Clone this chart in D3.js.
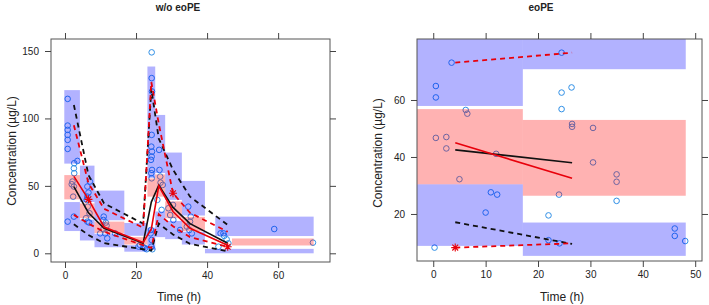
<!DOCTYPE html>
<html>
<head>
<meta charset="utf-8">
<script src="https://cdn.jsdelivr.net/npm/d3@7"></script>
<style>
  body { margin: 0; background: #fff; }
  text { font-family: "Liberation Sans", Arial, sans-serif; }
</style>
</head>
<body>
<div id="plot"></div>
<script>
// ---- left panel: w/o eoPE ----
var leftTitle = "w/o eoPE"
var leftXTicks = [0, 20, 40, 60]
var leftYTicks = [0, 50, 100, 150]

// observed concentrations
var leftTime = [
  0.75, 0.75, 0.75, 0.75, 0.75, 0.75, 0.75,
  2.6, 2.5, 2.6, 2.1, 1.9, 2.5, 2.3, 2.5, 3.5,
  5.9, 6.3, 6.8, 6.3, 6.6, 6.1, 6.4, 7.0, 6.3, 6.9,
  10.9, 10.8, 11.5, 10.8, 11.3, 11.9, 14.1, 9.9, 11.7,
  21.1, 22.1, 22.5, 23.0, 20.7,
  24.4, 24.4, 24.5, 24.4, 24.3, 24.5, 24.4, 24.2, 24.5, 24.3, 24.4, 24.2, 24.1, 24.4, 24.3, 24.6,
  26.5, 26.6, 26.8, 26.9, 27.5, 27.2, 26.0,
  29.1, 29.6, 30.4, 30.5, 32.4,
  34.7, 35.4, 35.2, 35.0, 35.7, 34.3,
  43.8, 44.6, 44.8, 45.5, 46.0, 43.2,
  58.9, 69.8
]
var leftConc = [
  114.5, 94.7, 91.5, 87.8, 84.1, 77.4, 23.5,
  66.8, 63.0, 59.4, 53.2, 51.2, 49.5, 42.0, 27.2, 68.5,
  26.0, 23.5, 22.8, 49.5, 45.0, 39.6, 34.6, 53.2, 42.0, 29.7,
  27.2, 24.7, 22.8, 17.8, 14.8, 11.1, 14.8, 14.8, 20.5,
  6.2, 4.5, 3.7, 3.0, 5.0,
  149.0, 129.9, 120.0, 87.8, 79.1, 75.4, 71.7, 69.3, 61.8, 59.4, 55.6, 17.3, 14.8, 9.9, 4.9, 3.0,
  76.7, 61.8, 56.9, 52.4, 50.7, 32.2, 39.6,
  33.4, 28.4, 35.9, 24.7, 17.3,
  34.6, 27.2, 23.5, 17.3, 14.8, 19.8,
  14.8, 14.8, 12.9, 10.4, 7.4, 4.9,
  18.0, 7.9
]

// 95% CI of simulated 95th percentile, median, 5th percentile per bin
var leftUpperCI = [
  {x0: -0.2, x1: 4.2, lo: 66.5, hi: 121},
  {x0: 4.2, x1: 8.3, lo: 38, hi: 65},
  {x0: 8.3, x1: 16.7, lo: 24.5, hi: 46.5},
  {x0: 16.7, x1: 23.2, lo: 13, hi: 22.5},
  {x0: 23.2, x1: 25.4, lo: 56, hi: 138.5},
  {x0: 25.4, x1: 28.2, lo: 59.5, hi: 102.6},
  {x0: 28.2, x1: 32.9, lo: 39.6, hi: 74.7},
  {x0: 32.9, x1: 39.4, lo: 28, hi: 53.7},
  {x0: 42.3, x1: 70, lo: 12.8, hi: 27.2}
]
var leftMedianCI = [
  {x0: -0.2, x1: 4.2, lo: 40, hi: 58},
  {x0: 4.2, x1: 8.3, lo: 26, hi: 37},
  {x0: 8.3, x1: 16.7, lo: 15, hi: 23.5},
  {x0: 16.7, x1: 23.2, lo: 6.5, hi: 12},
  {x0: 23.2, x1: 25.4, lo: 42, hi: 55.5},
  {x0: 25.4, x1: 28.2, lo: 42, hi: 58.5},
  {x0: 28.2, x1: 32.9, lo: 26, hi: 38.5},
  {x0: 32.9, x1: 39.4, lo: 16.5, hi: 27},
  {x0: 47, x1: 70, lo: 5.8, hi: 11}
]
var leftLowerCI = [
  {x0: -0.2, x1: 4.2, lo: 16.5, hi: 38},
  {x0: 4.2, x1: 8.3, lo: 9.5, hi: 25},
  {x0: 8.3, x1: 16.7, lo: 4.5, hi: 14.5},
  {x0: 16.7, x1: 23.2, lo: 1.2, hi: 6},
  {x0: 23.2, x1: 25.4, lo: 2.5, hi: 19},
  {x0: 25.4, x1: 28.2, lo: 12, hi: 31},
  {x0: 28.2, x1: 32.9, lo: 10.5, hi: 24},
  {x0: 32.9, x1: 39.4, lo: 6.5, hi: 16},
  {x0: 39.4, x1: 70, lo: 0, hi: 3.3}
]

// percentile lines at bin midpoints
var leftBinMid   = [2.5, 6.6, 11.0, 22.0, 24.3, 26.4, 30.4, 35.2, 45.8]
var leftObsMed   = [57, 40, 19.5, 8, 18, 50, 31, 18.5, 6]
var leftSimMed   = [49.5, 30, 18.5, 7.5, 38, 50.5, 34, 22, 7.5]
var leftObsHigh  = [95, 52, 33, 19, 127, 96, 44.5, 30, 16]
var leftSimHigh  = [110, 58, 37, 22, 122, 85, 62, 42, 21]
var leftObsLow   = [28.5, 22, 16, 6, 4, 29, 20, 12, 4.9]
var leftSimLow   = [21.5, 13.5, 7.5, 3, 2, 22, 14, 7, 1.5]
// observed percentiles outside their CI
var leftStarT = [6.6, 30.4, 45.8]
var leftStarC = [40, 44.5, 4.9]

// ---- right panel: eoPE ----
var rightTitle = "eoPE"
var rightXTicks = [0, 10, 20, 30, 40, 50]
var rightYTicks = [20, 40, 60]

var rightTime = [3.5, 24.5, 0.5, 0.5, 6.2, 6.5, 0.5, 2.5, 2.5, 12.0, 5.0, 11.0, 12.2, 10.0, 0.25,
  24.5, 26.4, 24.5, 26.5, 26.5, 30.5, 30.5, 35.0, 35.0, 35.0, 24.0, 22.0, 22.0, 24.1, 46.1, 46.1, 48.1]
var rightConc = [73.1, 76.6, 64.9, 60.9, 56.5, 55.2, 46.7, 47.0, 43.0, 41.1, 32.2, 27.6, 26.8, 20.5, 8.2,
  62.6, 64.4, 56.8, 51.6, 50.6, 50.2, 38.1, 33.9, 31.3, 24.6, 26.8, 19.5, 10.8, 9.7, 14.9, 12.3, 10.5]

var rightUpperCI = [
  {x0: -3.5, x1: 17.1, lo: 57.9, hi: 90},
  {x0: 17.1, x1: 48.2, lo: 70.8, hi: 90}
]
var rightMedianCI = [
  {x0: -3.5, x1: 17.1, lo: 30.4, hi: 56.8},
  {x0: 17.1, x1: 48.2, lo: 26.4, hi: 53}
]
var rightLowerCI = [
  {x0: -3.5, x1: 17.1, lo: 8.8, hi: 30.4},
  {x0: 17.1, x1: 48.2, lo: 5.3, hi: 17}
]
var rightBinMid  = [4.2, 26.5]
var rightObsMed  = [45.0, 32.5]
var rightSimMed  = [42.5, 38.0]
var rightObsHigh = [73.1, 76.6]
var rightObsLow  = [8.2, 9.7]
var rightSimLow  = [17.1, 9.5]
var rightStarT = [4.2]
var rightStarC = [8.2]

var svg = d3.select("#plot").append("svg")
  .attr("width", 709)
  .attr("height", 305)

function drawPanel(p, id) {
  var x = d3.scaleLinear().domain(p.xDomain).range([p.box.x0, p.box.x1])
  var y = d3.scaleLinear().domain(p.yDomain).range([p.box.y1, p.box.y0])

  svg.append("clipPath").attr("id", id)
    .append("rect")
      .attr("x", p.box.x0).attr("y", p.box.y0)
      .attr("width", p.box.x1 - p.box.x0).attr("height", p.box.y1 - p.box.y0)

  var g = svg.append("g").attr("clip-path", "url(#" + id + ")")

  // points first, the translucent bands go over them
  g.selectAll(".pt")
    .data(p.time)
    .enter()
    .append("circle")
      .attr("cx", d => x(d))
      .attr("cy", (d, i) => y(p.conc[i]))
      .attr("r", 2.8)
      .attr("fill", "none")
      .attr("stroke", "#2f8fe6")
      .attr("stroke-width", 1)

  var bands = [[p.upper, "rgba(0,0,255,0.3)"], [p.median, "rgba(255,0,0,0.3)"], [p.lower, "rgba(0,0,255,0.3)"]]
  bands.forEach(function(b) {
    g.append("g").selectAll("rect")
      .data(b[0])
      .enter()
      .append("rect")
        .attr("x", d => x(d.x0))
        .attr("width", d => x(d.x1) - x(d.x0))
        .attr("y", d => y(d.hi))
        .attr("height", d => y(d.lo) - y(d.hi))
        .attr("fill", b[1])
  })

  var line = d3.line()
    .x((d, i) => x(p.mid[i]))
    .y(d => y(d))

  p.lines.forEach(function(l) {
    g.append("path")
      .datum(l.v)
      .attr("d", line)
      .attr("fill", "none")
      .attr("stroke", l.col)
      .attr("stroke-width", l.dash ? 1.8 : 1.6)
      .attr("stroke-dasharray", l.dash ? "5,4" : null)
  })

  // asterisks
  var star = g.selectAll(".star")
    .data(p.starT)
    .enter()
    .append("g")
      .attr("transform", (d, i) => "translate(" + x(d) + "," + y(p.starC[i]) + ")")
  star.append("path")
    .attr("d", "M-4,0H4M0,-4V4M-2.9,-2.9L2.9,2.9M-2.9,2.9L2.9,-2.9")
    .attr("stroke", "#e8000b")
    .attr("stroke-width", 1.1)

  // box and ticks on all four sides (labels only bottom/left)
  svg.append("rect")
    .attr("x", p.box.x0).attr("y", p.box.y0)
    .attr("width", p.box.x1 - p.box.x0).attr("height", p.box.y1 - p.box.y0)
    .attr("fill", "none")
    .attr("stroke", "#555")
    .attr("stroke-width", 1)

  function style(a) {
    a.select(".domain").remove()
    a.selectAll("line").attr("stroke", "#444")
    a.selectAll("text").attr("fill", "#222").style("font-size", "10px")
      .style("font-family", "'Liberation Sans', Arial, sans-serif")
  }
  svg.append("g")
    .attr("transform", "translate(0," + p.box.y1 + ")")
    .call(d3.axisBottom(x).tickValues(p.xTicks).tickSize(6).tickPadding(4))
    .call(style)
  svg.append("g")
    .attr("transform", "translate(0," + p.box.y0 + ")")
    .call(d3.axisTop(x).tickValues(p.xTicks).tickSize(6).tickFormat(""))
    .call(style)
  svg.append("g")
    .attr("transform", "translate(" + p.box.x0 + ",0)")
    .call(d3.axisLeft(y).tickValues(p.yTicks).tickSize(6).tickPadding(6))
    .call(style)
  svg.append("g")
    .attr("transform", "translate(" + p.box.x1 + ",0)")
    .call(d3.axisRight(y).tickValues(p.yTicks).tickSize(6).tickFormat(""))
    .call(style)

  svg.append("text")
    .attr("x", p.titleX).attr("y", 11)
    .attr("text-anchor", "middle")
    .style("font-size", "10px").style("font-weight", "bold")
    .attr("fill", "#222")
    .text(p.title)

  svg.append("text")
    .attr("x", p.xLabelX).attr("y", 301)
    .attr("text-anchor", "middle")
    .style("font-size", "12px")
    .attr("fill", "#222")
    .text("Time (h)")

  svg.append("text")
    .attr("transform", "translate(" + p.yLabelX + "," + p.yLabelY + ") rotate(-90)")
    .attr("text-anchor", "middle")
    .style("font-size", "12px")
    .attr("fill", "#222")
    .text("Concentration (µg/L)")
}

drawPanel({
  box: {x0: 51, x1: 330, y0: 39, y1: 262},
  xDomain: [-3.94, 74.6], yDomain: [-6.45, 158.9],
  xTicks: leftXTicks, yTicks: leftYTicks,
  time: leftTime, conc: leftConc,
  upper: leftUpperCI, median: leftMedianCI, lower: leftLowerCI,
  mid: leftBinMid,
  lines: [
    {v: leftSimHigh, col: "#111", dash: true},
    {v: leftSimLow, col: "#111", dash: true},
    {v: leftObsHigh, col: "#e8000b", dash: true},
    {v: leftObsLow, col: "#e8000b", dash: true},
    {v: leftSimMed, col: "#111", dash: false},
    {v: leftObsMed, col: "#e8000b", dash: false}
  ],
  starT: leftStarT, starC: leftStarC,
  title: leftTitle, titleX: 178, xLabelX: 179, yLabelX: 16, yLabelY: 151
}, "clipL")

drawPanel({
  box: {x0: 417, x1: 702, y0: 39, y1: 261},
  xDomain: [-3.1, 51.3], yDomain: [3.5, 81.4],
  xTicks: rightXTicks, yTicks: rightYTicks,
  time: rightTime, conc: rightConc,
  upper: rightUpperCI, median: rightMedianCI, lower: rightLowerCI,
  mid: rightBinMid,
  lines: [
    {v: rightSimLow, col: "#111", dash: true},
    {v: rightObsHigh, col: "#e8000b", dash: true},
    {v: rightObsLow, col: "#e8000b", dash: true},
    {v: rightSimMed, col: "#111", dash: false},
    {v: rightObsMed, col: "#e8000b", dash: false}
  ],
  starT: rightStarT, starC: rightStarC,
  title: rightTitle, titleX: 541, xLabelX: 562, yLabelX: 382, yLabelY: 153
}, "clipR")
</script>
</body>
</html>
